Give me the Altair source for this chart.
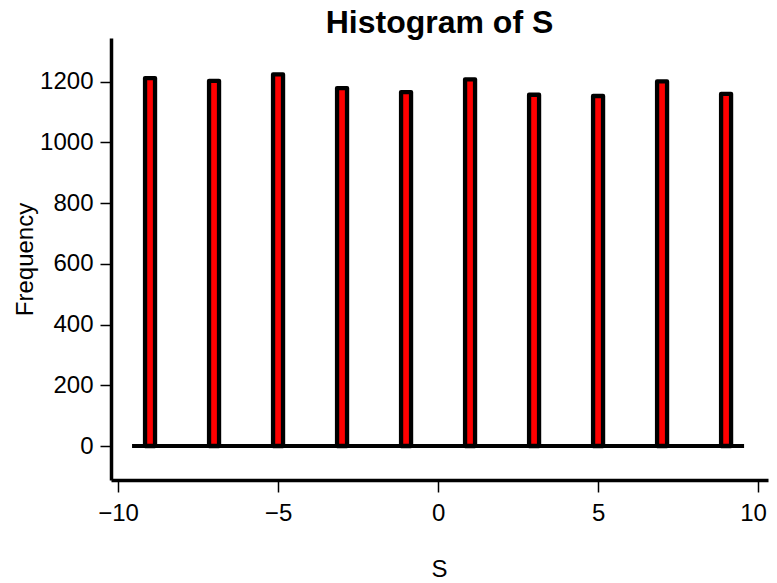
import altair as alt
import pandas as pd

centers = [-9, -7, -5, -3, -1, 1, 3, 5, 7, 9]
counts = [1212, 1203, 1224, 1179, 1166, 1208, 1157, 1153, 1201, 1160]
half_width = 0.156
base_from, base_to = -9.5, 9.5

bars = pd.DataFrame({
    "left": [c - half_width for c in centers],
    "right": [c + half_width for c in centers],
    "count": counts,
})
base = pd.DataFrame({"x1": [base_from], "x2": [base_to], "y": [0]})

FONT = "Liberation Sans"
xscale = alt.Scale(domain=[-10.22, 10.31], nice=False, zero=False)
yscale = alt.Scale(domain=[-112, 1344], nice=False, zero=False)

xaxis = alt.Axis(values=[-10, -5, 0, 5, 10], title="S", grid=False,
                 domainColor="black", domainWidth=3.5, tickColor="black",
                 tickWidth=1.5, tickSize=12, labelFontSize=24, labelFont=FONT,
                 labelColor="black", labelPadding=9,
                 labelOffset={"condition": {"test": "datum.value == 10", "value": -5}, "value": 0},
                 titleFont=FONT,
                 titleFontSize=24, titleFontWeight="normal", titleColor="black",
                 titleX=328, titleY=96, titleBaseline="alphabetic")
yaxis = alt.Axis(values=[0, 200, 400, 600, 800, 1000, 1200], format="d",
                 title="Frequency",
                 grid=False, domainColor="black", domainWidth=3.5,
                 tickColor="black", tickWidth=1.5, tickSize=11,
                 labelFontSize=24, labelFont=FONT, labelColor="black",
                 labelPadding=7, titleFont=FONT, titleFontSize=24,
                 titleFontWeight="normal", titleColor="black", titleAngle=-90,
                 titleX=-79, titleY=221, titleBaseline="alphabetic",
                 titleAlign="center")

bar_layer = alt.Chart(bars).mark_bar(
    fill="red", stroke="black", strokeWidth=4.3, strokeJoin="round"
).encode(
    x=alt.X("left:Q", scale=xscale, axis=xaxis),
    x2="right:Q",
    y=alt.Y("count:Q", scale=yscale, axis=yaxis),
    y2=alt.datum(0),
)

base_layer = alt.Chart(base).mark_rule(
    color="black", strokeWidth=4, strokeCap="square"
).encode(
    x=alt.X("x1:Q", scale=xscale),
    x2="x2:Q",
    y=alt.Y("y:Q", scale=yscale),
)

chart = alt.layer(bar_layer, base_layer).properties(
    width=657,
    height=442,
    title=alt.TitleParams("Histogram of S", fontSize=32, fontWeight="bold",
                          font=FONT, color="black", anchor="middle",
                          baseline="alphabetic", offset=0, dy=27),
    autosize=alt.AutoSizeParams(type="none"),
    padding={"left": 103, "top": 30, "right": 1, "bottom": 103},
).configure_view(stroke=None)

chart.save("out.html", embed_options={"renderer": "svg", "actions": False})
